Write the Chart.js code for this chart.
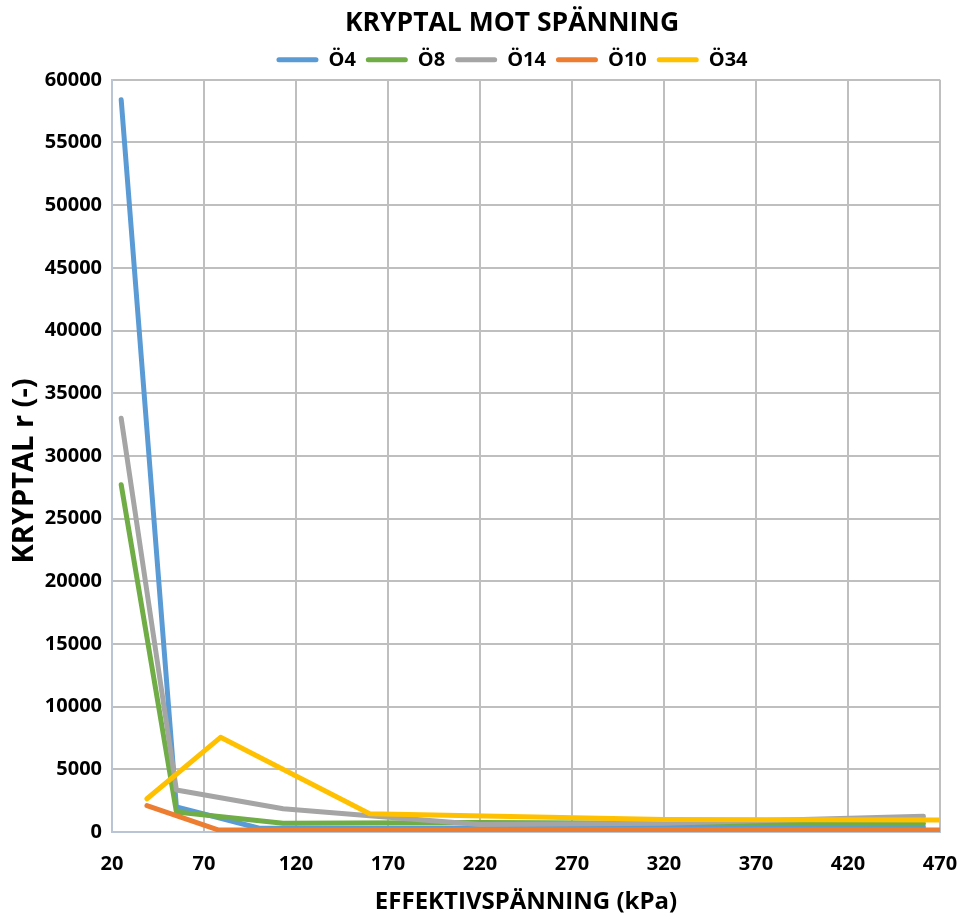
<!DOCTYPE html>
<html>
<head>
<meta charset="utf-8">
<script src="https://cdn.jsdelivr.net/npm/chart.js@4"></script>
<style>
  body { margin: 0; background: #fff; }
  #wrap { width: 962px; height: 917px; }
</style>
</head>
<body>
<div id="wrap"><canvas id="chart"></canvas></div>
<script>
// Series (x = effektivspänning kPa, y = kryptal r)
const seriesNames = ['Ö4', 'Ö8', 'Ö14', 'Ö10', 'Ö34'];
const seriesColors = ['#5B9BD5', '#70AD47', '#A5A5A5', '#ED7D31', '#FFC000'];

const o4X = [25, 55, 100, 160, 320, 461];
const o4Y = [58400, 2000, 300, 300, 350, 400];
const o8X = [25, 55, 113, 220, 320, 461];
const o8Y = [27700, 1600, 700, 750, 700, 650];
const o14X = [25, 55, 113, 160, 220, 320, 461];
const o14Y = [33000, 3350, 1850, 1300, 600, 700, 1250];
const o10X = [39, 78, 160, 320, 470];
const o10Y = [2100, 150, 150, 200, 150];
const o34X = [39, 79, 160, 320, 470];
const o34Y = [2650, 7550, 1450, 1000, 950];

const xTicks = [20, 70, 120, 170, 220, 270, 320, 370, 420, 470];
const yMax = 60000, yStep = 5000;

const allX = [o4X, o8X, o14X, o10X, o34X];
const allY = [o4Y, o8Y, o14Y, o10Y, o34Y];

const FONT = '"Open Sans", "Liberation Sans", sans-serif';

const datasets = seriesNames.map((name, i) => ({
    label: name,
    data: allX[i].map((x, j) => ({ x: x, y: allY[i][j] })),
    borderColor: seriesColors[i],
    backgroundColor: seriesColors[i],
    borderWidth: 5,
    pointRadius: 0,
    tension: 0,
    borderCapStyle: 'round',
    borderJoinStyle: 'round',
    order: seriesNames.length - i   // later series drawn on top, like Excel
}));

// the original centres title + legend a bit right of the canvas middle
const shiftHeader = {
    id: 'shiftHeader',
    afterLayout(chart) {
        [chart.titleBlock, chart.legend].forEach(b => {
            if (!b) return;
            b.left += 37;
            b.right += 37;
        });
    }
};

const ctx = document.getElementById('chart').getContext('2d');
new Chart(ctx, {
    type: 'line',
    data: { datasets: datasets },
    plugins: [shiftHeader],
    options: {
        responsive: true,
        maintainAspectRatio: false,
        animation: false,
        layout: { padding: { left: 10, right: 22, top: 8, bottom: 0 } },
        plugins: {
            title: {
                display: true,
                text: 'KRYPTAL MOT SPÄNNING',
                color: '#000',
                font: { family: FONT, size: 26.5, weight: 'bold' },
                padding: { top: 0, bottom: 0 }
            },
            legend: {
                display: true,
                labels: {
                    color: '#000',
                    font: { family: FONT, size: 20, weight: 'bold' },
                    boxWidth: 42,
                    boxHeight: 5,
                    padding: 10,
                    useBorderRadius: true,
                    borderRadius: 2.5,
                    generateLabels: chart => Chart.defaults.plugins.legend.labels.generateLabels(chart)
                        .map(l => ({ ...l, lineWidth: 0 }))
                        .sort((a, b) => a.datasetIndex - b.datasetIndex)
                }
            },
            tooltip: { enabled: false }
        },
        scales: {
            x: {
                type: 'linear',
                min: xTicks[0],
                max: xTicks[xTicks.length - 1],
                afterBuildTicks: axis => { axis.ticks = xTicks.map(v => ({ value: v })); },
                ticks: {
                    color: '#000',
                    font: { family: FONT, size: 20, weight: 'bold' },
                    padding: 20,
                    maxRotation: 0
                },
                grid: { color: '#bfbfbf', lineWidth: 2, drawTicks: false },
                border: { color: '#b9c4d4', width: 2 },
                title: {
                    display: true,
                    text: 'EFFEKTIVSPÄNNING (kPa)',
                    color: '#000',
                    font: { family: FONT, size: 24, weight: 'bold' },
                    padding: { top: 6, bottom: 0 }
                },
                afterFit: axis => {
                    axis.height = 85;
                    axis.paddingLeft = 0;
                    axis.paddingRight = 0;
                }
            },
            y: {
                min: 0,
                max: yMax,
                ticks: {
                    stepSize: yStep,
                    color: '#000',
                    font: { family: FONT, size: 20, weight: 'bold' },
                    padding: 10,
                    callback: v => String(v)
                },
                grid: { color: '#bfbfbf', lineWidth: 2, drawTicks: false },
                border: { color: '#b9c4d4', width: 2 },
                title: {
                    display: true,
                    text: 'KRYPTAL r (-)    ',
                    color: '#000',
                    font: { family: FONT, size: 29, weight: 'bold' },
                    padding: { top: -3, bottom: 0 }
                },
                afterFit: axis => { axis.width = 102; }
            }
        }
    }
});
</script>
</body>
</html>
